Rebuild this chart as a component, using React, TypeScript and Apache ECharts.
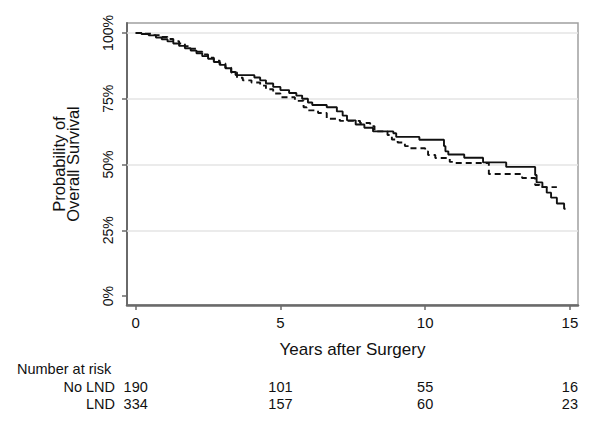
import React, { useEffect, useRef } from "react";
import * as echarts from "echarts";

const noLnd: [number, number][] = [
  [0, 100], [0.2, 99.6], [0.45, 99.1], [0.7, 98.3], [0.9, 97.6], [1.1, 96.8], [1.3, 96.0],
  [1.5, 95.1], [1.7, 94.2], [1.9, 93.3], [2.1, 92.3], [2.3, 91.2], [2.5, 90.2], [2.7, 89.0],
  [2.9, 87.9], [3.1, 86.6], [3.3, 85.2], [3.45, 84.0], [4.1, 83.1], [4.3, 82.0], [4.5, 80.8],
  [4.75, 79.5], [5.0, 78.3], [5.3, 77.2], [5.55, 76.2], [5.75, 75.0], [5.95, 73.6], [6.1, 72.6],
  [6.6, 71.8], [6.95, 70.2], [7.15, 68.6], [7.3, 66.8], [7.6, 65.2], [7.9, 64.0], [8.2, 62.6],
  [8.9, 61.9], [9.0, 60.5], [9.8, 59.4], [10.65, 57.0], [10.7, 55.0], [10.8, 53.8], [11.35, 52.6],
  [12.0, 50.8], [12.8, 49.1], [13.8, 46.0], [13.85, 43.2], [14.05, 41.4], [14.2, 39.3],
  [14.35, 37.4], [14.55, 35.2], [14.8, 33.2], [14.85, 33.2],
];

const lnd: [number, number][] = [
  [0, 100], [0.3, 99.7], [0.6, 99.2], [0.9, 98.5], [1.1, 97.7], [1.3, 96.9], [1.5, 96.0],
  [1.7, 95.0], [1.9, 94.0], [2.1, 92.9], [2.3, 91.8], [2.5, 90.6], [2.7, 89.5], [2.9, 88.4],
  [3.1, 86.8], [3.3, 85.0], [3.5, 83.0], [3.7, 82.0], [4.0, 81.2], [4.3, 80.0], [4.5, 78.6],
  [4.75, 77.0], [5.0, 75.6], [5.5, 74.2], [5.8, 71.8], [5.9, 70.6], [6.3, 69.6], [6.6, 67.4],
  [7.05, 66.6], [7.75, 65.8], [8.1, 64.6], [8.25, 62.6], [8.7, 61.2], [8.85, 59.5], [9.05, 58.4],
  [9.3, 57.0], [9.45, 56.2], [10.0, 55.0], [10.1, 53.6], [10.35, 52.5], [10.85, 51.0],
  [11.0, 50.6], [12.2, 46.4], [13.35, 44.9], [13.8, 42.2], [13.95, 41.4], [14.55, 41.4],
];

const xTicks = [0, 5, 10, 15];
const yTicks = [0, 25, 50, 75, 100];
const gridValues = [25, 50, 75, 100];
const riskGroups = ["No LND", "LND"];
const riskTimes = [0, 5, 10, 15];
const riskNoLnd = [190, 101, 55, 16];
const riskLnd = [334, 157, 60, 23];

const FONT = "'Liberation Sans', Arial, sans-serif";
const INK = "#111";

export default function App() {
  const ref = useRef<HTMLDivElement>(null);
  useEffect(() => {
    if (!ref.current) return;
    const chart = echarts.init(ref.current, undefined, { renderer: "svg" });
    chart.setOption({
      animation: false,
      backgroundColor: "#fff",
      textStyle: { fontFamily: FONT },
      grid: {
        left: 127, right: 22, top: 23, bottom: 119,
        show: true, borderColor: "#a0a0a0", borderWidth: 1.5,
      },
      xAxis: {
        type: "value", min: -0.3, max: 15.28,
        name: "Years after Surgery", nameLocation: "middle", nameGap: 36,
        nameTextStyle: { fontSize: 17, color: INK, fontFamily: FONT },
        axisLine: { show: true, onZero: false, lineStyle: { color: "#6a6a6a", width: 2.5 } },
        axisTick: { show: true, length: 5, customValues: xTicks, lineStyle: { color: "#6a6a6a", width: 1.5 } },
        axisLabel: { customValues: xTicks, fontSize: 15, color: INK, margin: 10, fontFamily: FONT },
        splitLine: { show: false },
      },
      yAxis: {
        type: "value", min: -3.4, max: 103.8,
        name: "Probability of\nOverall Survival", nameLocation: "middle", nameGap: 47, nameRotate: 90,
        nameTextStyle: { fontSize: 16.5, lineHeight: 14, color: INK, fontFamily: FONT },
        axisLine: { show: true, onZero: false, lineStyle: { color: "#6a6a6a", width: 2 } },
        axisTick: { show: true, length: 5, customValues: yTicks, lineStyle: { color: "#6a6a6a", width: 1.5 } },
        axisLabel: {
          customValues: yTicks, rotate: 90, fontSize: 14, color: INK, margin: 12,
          formatter: "{value}%", fontFamily: FONT,
        },
        splitLine: { show: false },
      },
      series: [
        {
          name: "No LND", type: "line", step: "end", data: noLnd, showSymbol: false,
          lineStyle: { color: "#111", width: 1.9, type: "solid" }, z: 3,
          markLine: {
            silent: true, symbol: "none", label: { show: false }, z: 1,
            lineStyle: { color: "#e4e4e4", width: 1.5, type: "solid" },
            data: gridValues.map((v) => ({ yAxis: v })),
          },
        },
        {
          name: "LND", type: "line", step: "end", data: lnd, showSymbol: false,
          lineStyle: { color: "#111", width: 1.9, type: [6, 4] }, z: 3,
        },
      ],
    });

    const rows = [riskNoLnd, riskLnd];
    const rowY = [387, 404];
    const elements: any[] = [
      {
        type: "text", left: 17, top: 369 - 8,
        style: { text: "Number at risk", fontSize: 14.5, fill: INK, fontFamily: FONT },
      },
    ];
    riskGroups.forEach((g, i) => {
      elements.push({
        type: "text", x: 115, y: rowY[i],
        style: { text: g, fontSize: 14.5, fill: INK, fontFamily: FONT, align: "right", verticalAlign: "middle" },
      });
      riskTimes.forEach((t, j) => {
        const px = chart.convertToPixel({ xAxisIndex: 0 }, t) as number;
        elements.push({
          type: "text", x: px, y: rowY[i],
          style: { text: String(rows[i][j]), fontSize: 14.5, fill: INK, fontFamily: FONT, align: "center", verticalAlign: "middle" },
        });
      });
    });
    chart.setOption({ graphic: elements });
    return () => chart.dispose();
  }, []);
  return <div ref={ref} style={{ width: 600, height: 424, margin: -8 }} />;
}
